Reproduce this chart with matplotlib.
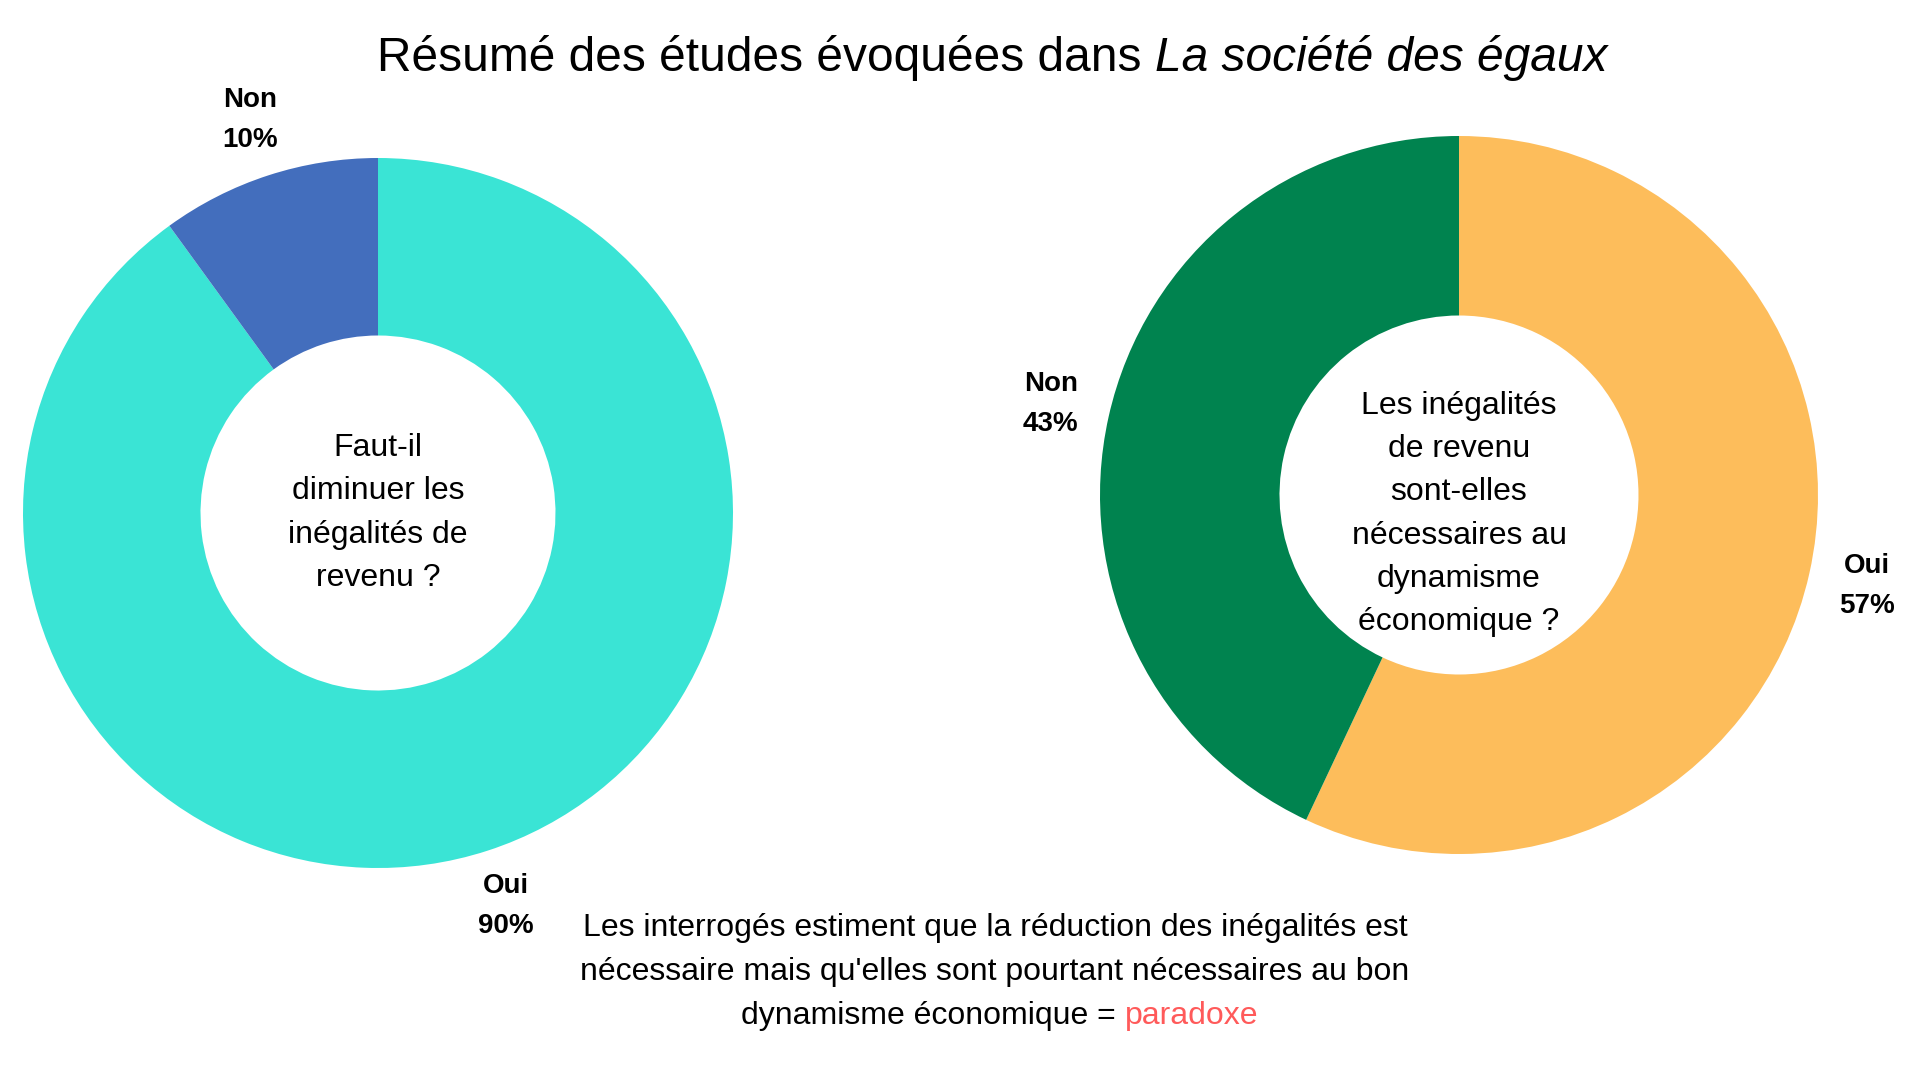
import matplotlib
matplotlib.use('Agg')
import matplotlib.pyplot as plt

plt.rcParams['font.family'] = ['Liberation Sans', 'DejaVu Sans']

# données
q1_labels = ['Oui', 'Non']
q1_values = [90, 10]
q1_colors = ['#3AE4D5', '#436EBD']
q1_question = "Faut-il\ndiminuer les\ninégalités de\nrevenu ?"

q2_labels = ['Oui', 'Non']
q2_values = [57, 43]
q2_colors = ['#FDBD5B', '#00834F']
q2_question = "Les inégalités\nde revenu\nsont-elles\nnécessaires au\ndynamisme\néconomique ?"

title_start = "Résumé des études évoquées dans"
title_italic = "La société des égaux"
note_lines = ["Les interrogés estiment que la réduction des inégalités est",
              "nécessaire mais qu'elles sont pourtant nécessaires au bon"]
note_last = "dynamisme économique ="
note_red = "paradoxe"

W, H = 1920, 1080
fig = plt.figure(figsize=(19.2, 10.8), dpi=100)
renderer = fig.canvas.get_renderer()


def donut(cx, cy, r, values, labels, colors, question, text_dy):
    ax = fig.add_axes([(cx - r) / W, (H - cy - r) / H, 2 * r / W, 2 * r / H])
    lbls = [f"{l}\n{v}%" for l, v in zip(labels, values)]
    wedges, texts = ax.pie(values, labels=lbls, colors=colors, startangle=90,
                           counterclock=False, labeldistance=1.165,
                           wedgeprops=dict(width=0.5, linewidth=0),
                           textprops=dict(fontsize=20, fontweight='bold', linespacing=1.7))
    for t in texts:
        t.set_ha('center')
        t.set_va('center')
    ax.text(0, text_dy, question, ha='center', va='center', fontsize=23, linespacing=1.58)
    ax.set_xlim(-1, 1)
    ax.set_ylim(-1, 1)
    ax.set_aspect('equal')
    ax.axis('off')


donut(378, 513, 355, q1_values, q1_labels, q1_colors, q1_question, 0)
donut(1459, 495, 359, q2_values, q2_labels, q2_colors, q2_question, -0.053)


def two_part_line(x, y, first, second, size, second_props):
    # largeur totale mesurée en police droite, puis deux morceaux aux bords
    full = fig.text(0, 0, first + " " + second, fontsize=size)
    width = full.get_window_extent(renderer).width
    full.remove()
    left = x - width / 2
    fig.text(left / W, 1 - y / H, first, fontsize=size, ha='left', va='center')
    fig.text((left + width) / W, 1 - y / H, second, fontsize=size, ha='right',
             va='center', **second_props)


# titre
two_part_line(992, 58, title_start, title_italic, 34.5, dict(style='italic'))

# note en bas
for i, line in enumerate(note_lines):
    fig.text(995 / W, 1 - (928 + 44 * i) / H, line, fontsize=23, ha='center', va='center')
two_part_line(1000, 1016, note_last, note_red, 23, dict(color='#FF5A5A'))

fig.savefig('out.png', dpi=100)
